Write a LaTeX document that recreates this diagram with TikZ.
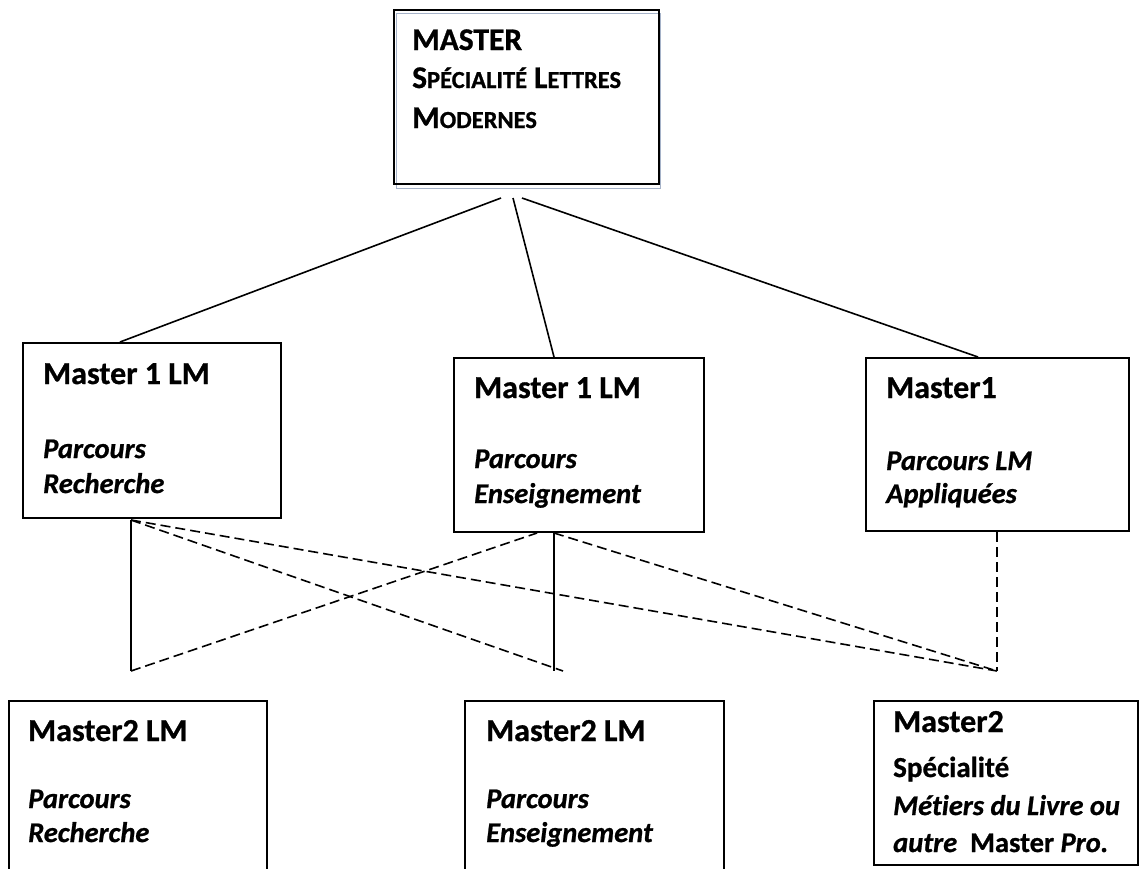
\documentclass[tikz,border=0pt]{standalone}
\usepackage{fontspec}
\setmainfont{Carlito}[Ligatures=CommonOff, BoldFeatures={FakeBold=0.8}, BoldItalicFeatures={FakeBold=0.8}]
\definecolor{framegrey}{RGB}{165,178,200}
\tikzstyle{box} = [draw, line width=1.6pt, anchor=north west, inner sep=0pt]
\tikzstyle{toptxt} = [anchor=base west, inner sep=0pt, font=\fontsize{31.5}{31.5}\selectfont\bfseries]
\tikzstyle{ttl} = [anchor=base west, inner sep=0pt, font=\fontsize{32}{32}\selectfont\bfseries]
\tikzstyle{spc} = [anchor=base west, inner sep=0pt, font=\fontsize{29}{29}\selectfont\bfseries]
\tikzstyle{prc} = [anchor=base west, inner sep=0pt, font=\fontsize{28.5}{28.5}\selectfont\bfseries\itshape]
\tikzstyle{link} = [line width=1.6pt]
\tikzstyle{alt} = [line width=1.6pt, dash pattern=on 10pt off 5pt]
\newcommand{\fsc}[2]{#1{\fontsize{24.5}{24.5}\selectfont #2}}

\begin{document}
\begin{tikzpicture}[x=1pt, y=-1pt]
\useasboundingbox (0,0) rectangle (1140,868);

\node[box, draw=framegrey, line width=1pt, minimum width=264pt, minimum height=175pt] (msh) at (396,13) {};
\node[box, minimum width=265pt, minimum height=174pt] (ms) at (393,9) {};
\node[toptxt] (ms1) at (412,50) {MASTER};
\node[toptxt] (ms2) at (412,88) {\fsc{S}{PÉCIALITÉ} \fsc{L}{ETTRES}};
\node[toptxt] (ms3) at (412,128) {\fsc{M}{ODERNES}};

\node[box, minimum width=258pt, minimum height=175pt] (m1r) at (22,342) {};
\node[ttl] (m1r1) at (43,384) {Master 1 LM};
\node[prc] (m1r2) at (43,458) {Parcours};
\node[prc] (m1r3) at (43,493) {Recherche};

\node[box, minimum width=250pt, minimum height=174pt] (m1e) at (453,357) {};
\node[ttl] (m1e1) at (474,398) {Master 1 LM};
\node[prc] (m1e2) at (474,468) {Parcours};
\node[prc] (m1e3) at (474,503) {Enseignement};

\node[box, minimum width=263pt, minimum height=173pt] (m1a) at (865,357) {};
\node[ttl] (m1a1) at (886,398) {Master1};
\node[prc] (m1a2) at (886,470) {Parcours LM};
\node[prc] (m1a3) at (886,503) {Appliquées};

\node[box, minimum width=258pt, minimum height=180pt] (m2r) at (8,700) {};
\node[ttl] (m2r1) at (28,741) {Master2 LM};
\node[prc] (m2r2) at (28,808) {Parcours};
\node[prc] (m2r3) at (28,842) {Recherche};

\node[box, minimum width=259pt, minimum height=180pt] (m2e) at (464,700) {};
\node[ttl] (m2e1) at (486,741) {Master2 LM};
\node[prc] (m2e2) at (486,808) {Parcours};
\node[prc] (m2e3) at (486,842) {Enseignement};

\node[box, minimum width=264pt, minimum height=164pt] (m2s) at (873,700) {};
\node[ttl] (m2s1) at (893,732) {Master2};
\node[spc] (m2s2) at (893,777) {Spécialité};
\node[prc] (m2s3) at (893,815) {Métiers du Livre ou};
\node[prc] (m2s4) at (893,852) {autre\ \ \upshape Master \itshape Pro.};

\coordinate (ms-a) at (501,198);
\coordinate (ms-b) at (513,198);
\coordinate (ms-c) at (522,198);
\draw[link] (ms-a) -- ([xshift=98pt]m1r.north west);
\draw[link] (ms-b) -- ([xshift=101pt]m1e.north west);
\draw[link] (ms-c) -- ([xshift=113pt]m1a.north west);

\coordinate (r-up) at (131,520);
\coordinate (r-down) at (131,671);
\coordinate (e-up) at (554,533);
\coordinate (e-down) at (554,671);
\coordinate (e-left) at (537,533);
\coordinate (e-end) at (563,671);
\coordinate (a-up) at (997,532);
\coordinate (a-down) at (997,671);
\draw[link] (r-up) -- (r-down);
\draw[alt] (r-down) -- (e-left);
\draw[alt] (r-up) -- (e-end);
\draw[alt] (r-up) -- (a-down);
\draw[link] (e-up) -- (e-down);
\draw[alt] (e-up) -- (a-down);
\draw[alt] (a-up) -- (a-down);
\end{tikzpicture}
\end{document}
